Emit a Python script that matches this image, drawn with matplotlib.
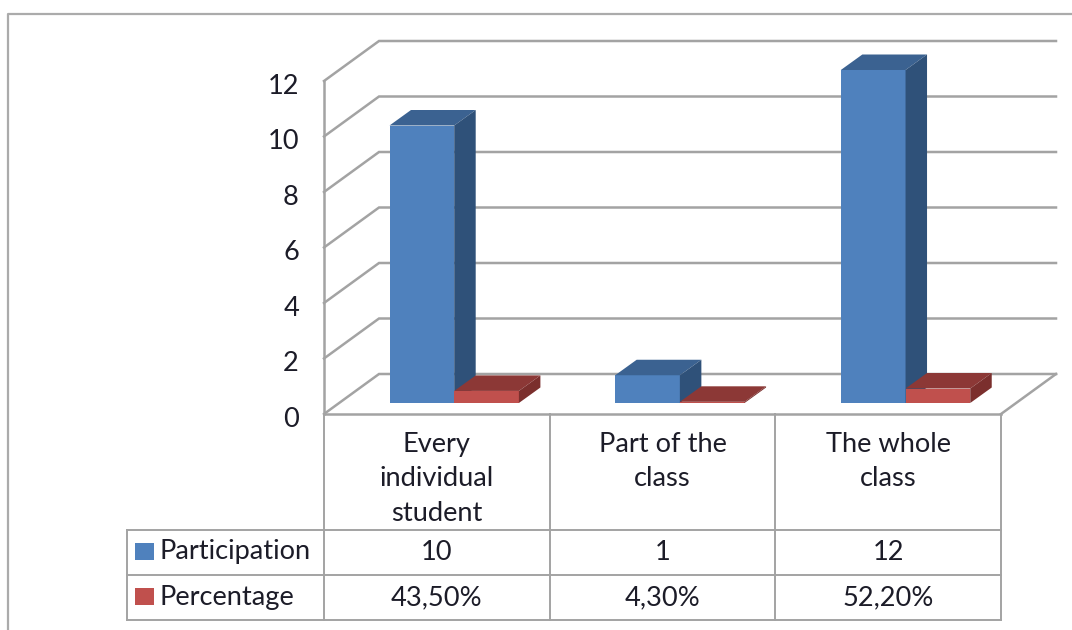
import matplotlib
matplotlib.use("Agg")
import matplotlib.pyplot as plt
from matplotlib.patches import Polygon, Rectangle
from matplotlib.transforms import ScaledTranslation

categories = ["Every\nindividual\nstudent", "Part of the\nclass", "The whole\nclass"]
participation = [10, 1, 12]
percentage = [0.435, 0.043, 0.522]
participation_labels = ["10", "1", "12"]
percentage_labels = ["43,50%", "4,30%", "52,20%"]
yticks = [0, 2, 4, 6, 8, 10, 12]

W, H = 1072, 630
plt.rcParams['font.family'] = ['Lato', 'DejaVu Sans']
GREY = "#a3a3a3"
TEXT = "#1c1c28"
FS = 19.6

# depth of the box in data units (px / px-per-unit)
ux = 677 / 3
uy = 333 / 12
wall_dx = 55 / ux
wall_dy = 40 / uy
bar_off_x = 15 / ux
bar_off_y = 11 / uy
bar_dx = 21.5 / ux
bar_dy = 15.5 / uy
bar_w = 64.7 / ux
bar_gap = 50.5 / ux

fig = plt.figure(figsize=(W / 100, H / 100), dpi=100, facecolor="white")

# page frame and table lines live in pixel coordinates
page = fig.add_axes([0, 0, 1, 1], zorder=0)
page.set_xlim(0, W)
page.set_ylim(H, 0)
page.axis("off")
page.plot([8, 8, W], [H, 14, 14], color="#ababab", lw=1.6)

ax = fig.add_axes([324 / W, 1 - 414 / H, 677 / W, 333 / H], zorder=1)
ax.patch.set_alpha(0)
ax.set_xlim(0, 3)
ax.set_ylim(0, 12)
for s in ["top", "right"]:
    ax.spines[s].set_visible(False)
for s in ["left", "bottom"]:
    ax.spines[s].set_color(GREY)
    ax.spines[s].set_linewidth(1.8)

# walls and floor
for v in yticks:
    ax.plot([0, wall_dx, 3 + wall_dx], [v, v + wall_dy, v + wall_dy],
            color=GREY, lw=1.8, clip_on=False, zorder=1, solid_joinstyle="miter")
ax.plot([3, 3 + wall_dx], [0, wall_dy], color=GREY, lw=1.8, clip_on=False, zorder=1)


def box(x, val, front, side, top, z):
    x0 = x + bar_off_x
    y0 = bar_off_y
    ax.bar(x0, val, bar_w, bottom=y0, align="edge", color=front, zorder=z, clip_on=False)
    ax.add_patch(Polygon([(x0, y0 + val), (x0 + bar_w, y0 + val),
                          (x0 + bar_w + bar_dx, y0 + val + bar_dy), (x0 + bar_dx, y0 + val + bar_dy)],
                         color=top, lw=0, zorder=z, clip_on=False))
    ax.add_patch(Polygon([(x0 + bar_w, y0), (x0 + bar_w + bar_dx, y0 + bar_dy),
                          (x0 + bar_w + bar_dx, y0 + val + bar_dy), (x0 + bar_w, y0 + val)],
                         color=side, lw=0, zorder=z, clip_on=False))


for i in range(3):
    left = i + bar_gap
    box(left, participation[i], "#4f81bd", "#2f5179", "#3b6291", 3 + i)
    box(left + bar_w, percentage[i], "#c0504d", "#7b2f2d", "#8c3836", 3.5 + i)

ax.set_yticks(yticks)
ax.tick_params(axis="y", length=0, pad=18, labelsize=FS, labelcolor=TEXT)
shift = ScaledTranslation(0, -2 / 72, fig.dpi_scale_trans)
for lab in ax.get_yticklabels():
    lab.set_transform(lab.get_transform() + shift)
ax.set_xticks([0.5, 1.5, 2.5])
ax.set_xticklabels(categories, linespacing=1.47)
ax.tick_params(axis="x", length=0, pad=13, labelsize=FS, labelcolor=TEXT)

# data table
for y in [530, 575, 620]:
    page.plot([127, 1001], [y, y], color=GREY, lw=1.4)
for x in [324, 550, 775, 1001]:
    page.plot([x, x], [414, 620], color=GREY, lw=1.4)
page.plot([127, 127], [530, 620], color=GREY, lw=1.4)

page.add_patch(Rectangle((135, 543), 19, 17, color="#4f81bd", lw=0))
page.add_patch(Rectangle((135, 588), 19, 17, color="#c0504d", lw=0))
page.text(160, 552, "Participation", fontsize=FS, color=TEXT, va="center", ha="left")
page.text(160, 597, "Percentage", fontsize=FS, color=TEXT, va="center", ha="left")
for i in range(3):
    cx = 324 + ux * (i + 0.5)
    page.text(cx, 552, participation_labels[i], fontsize=FS, color=TEXT, va="center", ha="center")
    page.text(cx, 598, percentage_labels[i], fontsize=FS, color=TEXT, va="center", ha="center")

fig.savefig("out.png", dpi=100)
